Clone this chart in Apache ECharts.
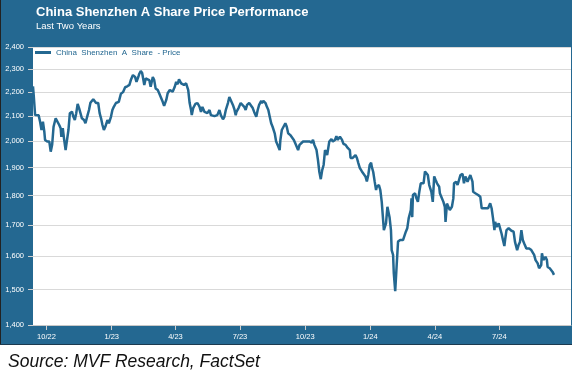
<!DOCTYPE html>
<head>
    <meta charset="utf-8"/>
    <style>
        html,body { height:100%; width:100%; margin:0; padding:0; background:#fff; }
    </style>
</head>
<body>

<div id="line" style="width:572px;height:377px;"></div>

<script src="https://cdn.jsdelivr.net/npm/echarts@6/dist/echarts.min.js"></script>
<script type="text/javascript">

// trading dates
var dates = [
'2022-09-12','2022-09-13','2022-09-15','2022-09-17','2022-09-20','2022-09-22','2022-09-24','2022-09-26','2022-09-28','2022-09-29',
'2022-10-02','2022-10-05','2022-10-07','2022-10-09','2022-10-11','2022-10-14','2022-10-16','2022-10-19','2022-10-21','2022-10-22',
'2022-10-24','2022-10-26','2022-10-28','2022-10-30','2022-11-01','2022-11-03','2022-11-06','2022-11-08','2022-11-10','2022-11-12',
'2022-11-14','2022-11-16','2022-11-18','2022-11-20','2022-11-23','2022-11-25','2022-11-28','2022-11-30','2022-12-02','2022-12-06',
'2022-12-08','2022-12-10','2022-12-13','2022-12-15','2022-12-17','2022-12-19','2022-12-21','2022-12-23','2022-12-26','2022-12-28',
'2022-12-31','2023-01-02','2023-01-04','2023-01-07','2023-01-09','2023-01-11','2023-01-14','2023-01-17','2023-01-20','2023-01-23',
'2023-01-26','2023-01-28','2023-01-31','2023-02-03','2023-02-05','2023-02-08','2023-02-09','2023-02-11','2023-02-13','2023-02-16',
'2023-02-18','2023-02-20','2023-02-23','2023-02-25','2023-02-28','2023-03-02','2023-03-04','2023-03-07','2023-03-09','2023-03-11',
'2023-03-14','2023-03-16','2023-03-19','2023-03-21','2023-03-24','2023-03-26','2023-03-28','2023-03-31','2023-04-02','2023-04-04',
'2023-04-06','2023-04-09','2023-04-11','2023-04-13','2023-04-16','2023-04-18','2023-04-19','2023-04-21','2023-04-23','2023-04-24',
'2023-04-26','2023-04-29','2023-05-02','2023-05-05','2023-05-07','2023-05-09','2023-05-12','2023-05-14','2023-05-16','2023-05-19',
'2023-05-21','2023-05-23','2023-05-26','2023-05-28','2023-05-30','2023-06-02','2023-06-04','2023-06-07','2023-06-09','2023-06-11',
'2023-06-14','2023-06-16','2023-06-18','2023-06-21','2023-06-23','2023-06-25','2023-06-26','2023-06-29','2023-07-02','2023-07-04',
'2023-07-07','2023-07-09','2023-07-11','2023-07-14','2023-07-16','2023-07-19','2023-07-21','2023-07-24','2023-07-26','2023-07-28',
'2023-07-31','2023-08-01','2023-08-03','2023-08-06','2023-08-08','2023-08-10','2023-08-12','2023-08-14','2023-08-16','2023-08-19',
'2023-08-21','2023-08-23','2023-08-26','2023-08-27','2023-08-29','2023-08-31','2023-09-03','2023-09-05','2023-09-07','2023-09-10',
'2023-09-12','2023-09-15','2023-09-17','2023-09-19','2023-09-21','2023-09-23','2023-09-25','2023-09-28','2023-10-02','2023-10-07',
'2023-10-10','2023-10-12','2023-10-14','2023-10-17','2023-10-19','2023-10-21','2023-10-23','2023-10-25','2023-10-27','2023-10-29',
'2023-11-01','2023-11-03','2023-11-04','2023-11-07','2023-11-09','2023-11-12','2023-11-14','2023-11-16','2023-11-19','2023-11-22',
'2023-11-24','2023-11-27','2023-11-30','2023-12-03','2023-12-04','2023-12-07','2023-12-09','2023-12-11','2023-12-13','2023-12-15',
'2023-12-17','2023-12-20','2023-12-22','2023-12-25','2023-12-27','2023-12-29','2023-12-31','2024-01-02','2024-01-03','2024-01-05',
'2024-01-07','2024-01-09','2024-01-10','2024-01-13','2024-01-15','2024-01-17','2024-01-19','2024-01-20','2024-01-23','2024-01-25',
'2024-01-26','2024-01-28','2024-01-30','2024-01-31','2024-02-02','2024-02-03','2024-02-05','2024-02-07','2024-02-09','2024-02-12',
'2024-02-16','2024-02-18','2024-02-20','2024-02-22','2024-02-24','2024-02-27','2024-02-28','2024-02-29','2024-03-01','2024-03-04',
'2024-03-06','2024-03-08','2024-03-10','2024-03-12','2024-03-14','2024-03-16','2024-03-18','2024-03-20','2024-03-22','2024-03-24',
'2024-03-25','2024-03-27','2024-03-29','2024-03-31','2024-04-02','2024-04-04','2024-04-07','2024-04-08','2024-04-10','2024-04-13',
'2024-04-15','2024-04-16','2024-04-18','2024-04-20','2024-04-22','2024-04-25','2024-04-27','2024-04-28','2024-05-01','2024-05-03',
'2024-05-05','2024-05-07','2024-05-10','2024-05-12','2024-05-14','2024-05-17','2024-05-19','2024-05-21','2024-05-24','2024-05-25',
'2024-05-28','2024-05-30','2024-06-01','2024-06-04','2024-06-06','2024-06-08','2024-06-11','2024-06-13','2024-06-15','2024-06-18',
'2024-06-20','2024-06-22','2024-06-24','2024-06-25','2024-06-27','2024-06-30','2024-07-02','2024-07-04','2024-07-06','2024-07-08',
'2024-07-09','2024-07-11','2024-07-14','2024-07-16','2024-07-18','2024-07-21','2024-07-23','2024-07-26','2024-07-28','2024-07-30',
'2024-08-01','2024-08-03','2024-08-05','2024-08-08','2024-08-10','2024-08-12','2024-08-15','2024-08-17','2024-08-19','2024-08-21',
'2024-08-24','2024-08-26','2024-08-29','2024-08-30','2024-09-01','2024-09-04','2024-09-06','2024-09-07','2024-09-10','2024-09-12',
'2024-09-14','2024-09-16'
];

// index level
var prices = [
2225,2187,2104,2097,2103,2077,2044,2077,2037,2005,
1999,1999,1960,1986,2057,2091,2084,2064,2051,2017,
2051,2005,1966,2005,2044,2112,2118,2097,2084,2112,
2150,2133,2125,2091,2084,2071,2104,2125,2155,2170,
2167,2154,2154,2112,2091,2064,2044,2057,2084,2071,
2097,2125,2138,2154,2146,2159,2193,2200,2221,2225,
2231,2252,2274,2266,2244,2270,2280,2292,2283,2231,
2259,2266,2252,2223,2266,2252,2216,2209,2195,2188,
2159,2142,2167,2195,2209,2216,2202,2223,2244,2234,
2255,2238,2244,2231,2238,2231,2209,2154,2125,2104,
2133,2150,2154,2138,2117,2138,2117,2125,2112,2125,
2104,2097,2100,2095,2104,2125,2104,2087,2097,2125,
2154,2179,2175,2146,2129,2104,2117,2133,2154,2159,
2138,2125,2146,2154,2146,2133,2117,2097,2125,2146,
2163,2154,2163,2154,2138,2125,2097,2071,2057,2031,
1999,1986,1966,2005,2044,2037,2071,2057,2031,2024,
2031,2005,1992,1999,1966,1986,1992,1999,1999,1999,
1995,2005,1986,1966,1929,1884,1858,1891,1910,1966,
1947,1940,1999,2008,1999,2005,2020,2005,2018,2005,
1990,1986,1974,1966,1936,1936,1942,1947,1936,1917,
1899,1886,1880,1868,1850,1873,1910,1918,1903,1884,
1850,1819,1831,1837,1819,1778,1772,1683,1705,1761,
1767,1726,1683,1619,1604,1548,1495,1570,1646,1651,
1651,1651,1678,1689,1722,1750,1790,1726,1802,1808,
1790,1778,1813,1843,1849,1843,1886,1886,1873,1837,
1844,1813,1778,1868,1855,1843,1831,1808,1796,1778,
1761,1710,1772,1761,1750,1761,1790,1843,1849,1837,
1855,1873,1877,1843,1868,1849,1861,1873,1849,1813,
1808,1808,1802,1796,1756,1753,1756,1761,1756,1773,
1756,1722,1683,1710,1694,1705,1689,1672,1651,1632,
1651,1683,1689,1683,1681,1678,1645,1619,1635,1645,
1683,1651,1640,1624,1619,1624,1619,1619,1604,1588,
1578,1563,1573,1609,1588,1598,1588,1567,1563,1566,
1552,1543
];

var yTicks = [1400,1500,1600,1700,1800,1900,2000,2100,2200,2300,2400];
var xTicks = ['2022-10-01','2023-01-01','2023-04-01','2023-07-01','2023-10-01','2024-01-01','2024-04-01','2024-07-01'];
var xMin = '2022-09-12';
var xMax = '2024-10-10';

var seriesName = 'China  Shenzhen  A  Share  - Price';
var blue = '#246891';

var points = [];
for (var i = 0; i < dates.length; i++) {
    points.push([dates[i], prices[i]]);
}
var lastTick = echarts.time.parse(xTicks[xTicks.length - 1]).getTime();

var myChart = echarts.init(document.getElementById('line'));

var option = {
    backgroundColor: '#ffffff',
    animation: false,
    textStyle: { fontFamily: 'Liberation Sans, Arial, sans-serif' },
    graphic: [
        { type: 'rect', shape: { x: 0, y: 0, width: 572, height: 345 }, style: { fill: blue }, z: -10 },
        { type: 'rect', shape: { x: 0, y: 0, width: 1, height: 345 }, style: { fill: '#222' }, z: -9 },
        { type: 'rect', shape: { x: 0, y: 344, width: 572, height: 1 }, style: { fill: '#1c3a4f' }, z: -9 },
        { type: 'rect', shape: { x: 33, y: 47, width: 538, height: 278 }, style: { fill: '#ffffff' }, z: -8 },
        { type: 'text', style: { x: 36, y: 12, text: 'China Shenzhen A Share Price Performance', fill: '#ffffff',
            font: 'bold 13px "Liberation Sans", Arial, sans-serif', textAlign: 'left', textVerticalAlign: 'middle' } },
        { type: 'text', style: { x: 36, y: 26, text: 'Last Two Years', fill: '#ffffff',
            font: '9.5px "Liberation Sans", Arial, sans-serif', textAlign: 'left', textVerticalAlign: 'middle' } },
        { type: 'text', style: { x: 8, y: 362, text: 'Source: MVF Research, FactSet', fill: '#111111',
            font: 'italic 17.5px "Liberation Sans", Arial, sans-serif', textAlign: 'left', textVerticalAlign: 'middle' } }
    ],
    legend: {
        data: [seriesName],
        left: 35,
        top: 48.5,
        padding: 0,
        icon: 'rect',
        itemWidth: 16,
        itemHeight: 3,
        selectedMode: false,
        textStyle: { color: blue, fontSize: 8 }
    },
    grid: {
        left: 33,
        right: 1,
        top: 47.3,
        bottom: 52
    },
    xAxis: {
        type: 'time',
        min: xMin,
        max: xMax,
        splitNumber: 8,
        axisLine: { show: true, lineStyle: { color: '#c8c8c8', width: 1 } },
        axisTick: { show: true, customValues: xTicks, length: 5, lineStyle: { color: '#d0d0d0' } },
        axisLabel: {
            color: '#ffffff',
            fontSize: 7.5,
            margin: 8,
            showMinLabel: false,
            showMaxLabel: false,
            hideOverlap: false,
            formatter: function (value) {
                if (value > lastTick) {
                    return '';
                }
                var d = new Date(value);
                return (d.getMonth() + 1) + '/' + String(d.getFullYear()).slice(2);
            }
        },
        splitLine: { show: false }
    },
    yAxis: {
        type: 'log',
        logBase: 10,
        min: 1400,
        max: 2400,
        axisLine: { show: false },
        axisTick: { show: true, customValues: yTicks, length: 5, lineStyle: { color: '#d0d0d0' } },
        axisLabel: {
            customValues: yTicks,
            color: '#ffffff',
            fontSize: 7.5,
            margin: 9,
            formatter: function (value) {
                return Math.round(value).toLocaleString('en-US');
            }
        },
        splitLine: { show: true, lineStyle: { color: '#d9d9d9', width: 1 } }
    },
    series: [
        {
            name: seriesName,
            type: 'line',
            data: points,
            symbol: 'none',
            lineStyle: { color: blue, width: 2.5 },
            itemStyle: { color: blue }
        }
    ]
};

myChart.setOption(option);

</script>
</body>
